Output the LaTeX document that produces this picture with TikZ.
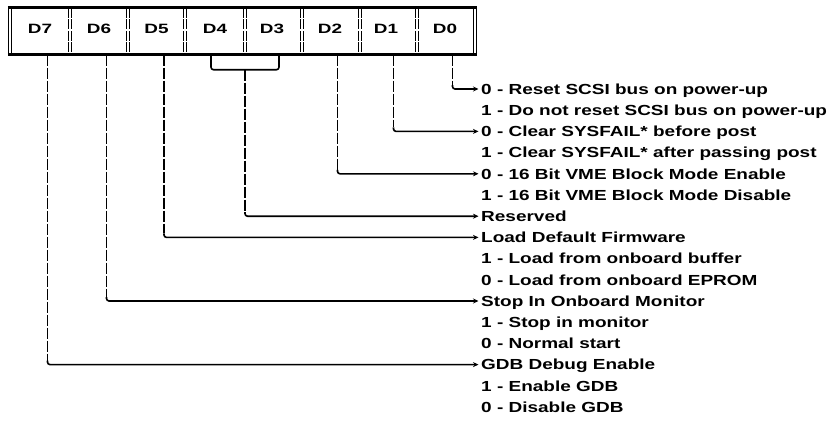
\documentclass[tikz,border=0pt]{standalone}
\usepackage{fontspec}
\setmainfont{Liberation Sans}
\newfontfamily\wfont[FakeStretch=1.3]{Liberation Sans}
\newfontfamily\lfont[FakeStretch=1.4]{Liberation Sans}
\usetikzlibrary{arrows.meta,calc}
\begin{document}
\begin{tikzpicture}[x=1pt,y=-1pt,
  lbl/.style={font=\lfont\fontsize{13.5}{14}\selectfont\bfseries, inner sep=0pt},
  txt/.style={font=\wfont\fontsize{14.6}{15}\selectfont\bfseries, anchor=west, inner sep=0pt, text height=10.4pt, text depth=0pt},
  edge/.style={line width=1pt},
  divider/.style={line width=1pt, dash pattern=on 10pt off 1.5pt},
  vline/.style={line width=1.6pt, dash pattern=on 11pt off 2pt},
  hline/.style={line width=1.6pt, rounded corners=2.5pt},
  tip/.style={-{Stealth[length=5.5pt,width=5pt]}, shorten >=2.5pt}
]
\useasboundingbox (0,0) rectangle (829,420);

% register frame
\node[minimum width=469pt, minimum height=47pt, inner sep=0pt] (reg) at (242.5,31) {};
\draw[line width=2.8pt] (reg.north west) -- (reg.north east);
\draw[line width=3.6pt] (reg.south west) -- (reg.south east);
\draw[edge] ([xshift=0.5pt]reg.north west) -- ([xshift=0.5pt]reg.south west);
\draw[edge] ([xshift=3.5pt]reg.north west) -- ([xshift=3.5pt]reg.south west);
\draw[edge] ([xshift=-0.5pt]reg.north east) -- ([xshift=-0.5pt]reg.south east);
\draw[edge] ([xshift=-3.5pt]reg.north east) -- ([xshift=-3.5pt]reg.south east);
\foreach \x in {70,128,185,245,302,360,417} {
  \draw[divider] (\x-1.5,8) -- (\x-1.5,54);
  \draw[divider] (\x+1.5,8) -- (\x+1.5,54);
}

% bit labels
\node[lbl] (c7) at (40,29) {D7};
\node[lbl] (c6) at (99,29) {D6};
\node[lbl] (c5) at (156.5,29) {D5};
\node[lbl] (c4) at (215,29) {D4};
\node[lbl] (c3) at (272,29) {D3};
\node[lbl] (c2) at (330,29) {D2};
\node[lbl] (c1) at (386,29) {D1};
\node[lbl] (c0) at (445,29) {D0};

% description texts
\node[txt] (t1)  at (481,89.0)  {0 - Reset SCSI bus on power-up};
\node[txt] (t2)  at (481,110.2) {1 - Do not reset SCSI bus on power-up};
\node[txt] (t3)  at (481,131.4) {0 - Clear SYSFAIL* before post};
\node[txt] (t4)  at (481,152.6) {1 - Clear SYSFAIL* after passing post};
\node[txt] (t5)  at (481,173.8) {0 - 16 Bit VME Block Mode Enable};
\node[txt] (t6)  at (481,195.0) {1 - 16 Bit VME Block Mode Disable};
\node[txt] (t7)  at (481,216.2) {Reserved};
\node[txt] (t8)  at (481,237.4) {Load Default Firmware};
\node[txt] (t9)  at (481,258.6) {1 - Load from onboard buffer};
\node[txt] (t10) at (481,279.8) {0 - Load from onboard EPROM};
\node[txt] (t11) at (481,301.0) {Stop In Onboard Monitor};
\node[txt] (t12) at (481,322.2) {1 - Stop in monitor};
\node[txt] (t13) at (481,343.4) {0 - Normal start};
\node[txt] (t14) at (481,364.6) {GDB Debug Enable};
\node[txt] (t15) at (481,385.8) {1 - Enable GDB};
\node[txt] (t16) at (481,407.0) {0 - Disable GDB};

% start points under the register
\coordinate (s0) at ([xshift=7.5pt]c0.center |- reg.south);
\coordinate (s1) at ([xshift=7.5pt]c1.center |- reg.south);
\coordinate (s2) at ([xshift=7.5pt]c2.center |- reg.south);
\coordinate (s5) at ([xshift=7.5pt]c5.center |- reg.south);
\coordinate (s6) at ([xshift=7.5pt]c6.center |- reg.south);
\coordinate (s7) at ([xshift=7.5pt]c7.center |- reg.south);
\coordinate (bl) at ([xshift=-4pt]c4.center |- reg.south);
\coordinate (br) at ([xshift=7pt]c3.center |- reg.south);
\coordinate (bm) at ($(bl)!0.5!(br) + (0,15)$);

% corners
\coordinate (k0) at (s0 |- t1.west);
\coordinate (k1) at (s1 |- t3.west);
\coordinate (k2) at (s2 |- t5.west);
\coordinate (k3) at (bm |- t7.west);
\coordinate (k5) at (s5 |- t8.west);
\coordinate (k6) at (s6 |- t11.west);
\coordinate (k7) at (s7 |- t14.west);

% D4/D3 bracket
\draw[hline] (bl) |- (bm) -| (br);

% connectors
\draw[vline] (s0) -- ([yshift=4pt]k0);
\draw[hline,tip] ([yshift=4pt]k0) |- (t1.west);
\draw[vline] (s1) -- ([yshift=4pt]k1);
\draw[hline,tip] ([yshift=4pt]k1) |- (t3.west);
\draw[vline] (s2) -- ([yshift=4pt]k2);
\draw[hline,tip] ([yshift=4pt]k2) |- (t5.west);
\draw[vline] (bm) -- ([yshift=4pt]k3);
\draw[hline,tip] ([yshift=4pt]k3) |- (t7.west);
\draw[vline] (s5) -- ([yshift=4pt]k5);
\draw[hline,tip] ([yshift=4pt]k5) |- (t8.west);
\draw[vline] (s6) -- ([yshift=4pt]k6);
\draw[hline,tip] ([yshift=4pt]k6) |- (t11.west);
\draw[vline] (s7) -- ([yshift=4pt]k7);
\draw[hline,tip] ([yshift=4pt]k7) |- (t14.west);
\end{tikzpicture}
\end{document}
